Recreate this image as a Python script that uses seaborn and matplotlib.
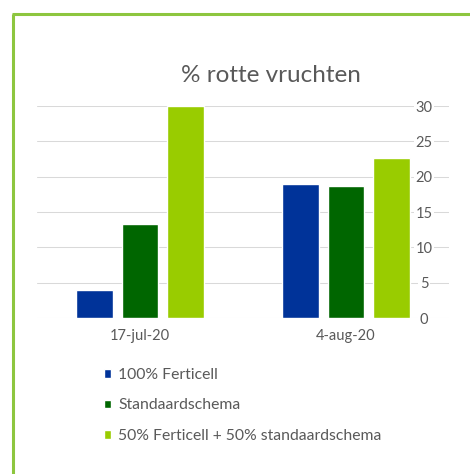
import matplotlib
matplotlib.use("Agg")
import matplotlib.pyplot as plt
from matplotlib.lines import Line2D
import seaborn as sns
import pandas as pd

dates = ["17-jul-20", "4-aug-20"]
series = ["100% Ferticell", "Standaardschema", "50% Ferticell + 50% standaardschema"]
ferticell100 = [4.0, 19.0]
standaard = [13.3, 18.7]
mix50 = [30.0, 22.7]
colors = ["#003399", "#006600", "#99CC00"]
yticks = [0, 5, 10, 15, 20, 25, 30]

rows = []
for s, vals in zip(series, [ferticell100, standaard, mix50]):
    for d, v in zip(dates, vals):
        rows.append({"datum": d, "serie": s, "waarde": v})
df = pd.DataFrame(rows)

sns.set_theme(style="white")
plt.rcParams["font.family"] = ["Lato", "DejaVu Sans"]
txt = "#595959"

W, H = 470, 474
fig = plt.figure(figsize=(W / 100, H / 100), dpi=100)
ax = fig.add_axes([37 / W, 1 - 318 / H, (449 - 37) / W, (318 - 106) / H])

sns.barplot(data=df, x="datum", y="waarde", hue="serie", hue_order=series,
            order=dates, palette=colors, width=0.663, gap=0.2,
            saturation=1, ax=ax, zorder=3)

ax.set_xlim(-0.5, 1.5)
ax.set_ylim(0, 30)
ax.set_yticks(yticks)
ax.set_xlabel("")
ax.set_ylabel("")
for sp in ax.spines.values():
    sp.set_visible(False)
ax.yaxis.grid(True, color="#d9d9d9", linewidth=0.75, zorder=0)
ax.set_axisbelow(True)
ax.yaxis.tick_right()
ax.tick_params(axis="y", length=0, pad=-18, labelsize=10.5, labelcolor=txt)
for lab in ax.get_yticklabels():
    lab.set_horizontalalignment("center")
    lab.set_bbox(dict(facecolor="white", edgecolor="none", pad=1))
ax.tick_params(axis="x", length=0, pad=8, labelsize=10.5, labelcolor=txt)

fig.text(271 / W, 1 - 76 / H, "% rotte vruchten", ha="center", va="center",
         fontsize=17.5, color=txt)

leg = ax.get_legend()
handles = leg.legend_handles
labels = [t.get_text() for t in leg.get_texts()]
leg.remove()
fig.legend(handles, labels, loc="upper left", bbox_to_anchor=(104 / W, 1 - 368 / H),
           frameon=False, fontsize=11.3, labelcolor=txt, handlelength=0.47,
           handleheight=0.47, handletextpad=0.45, labelspacing=1.05,
           borderaxespad=0, borderpad=0)

border = "#8DC63F"
fig.add_artist(Line2D([13 / W, 13 / W], [0, 1 - 14 / H], color=border, lw=2.2,
                      transform=fig.transFigure, solid_capstyle="butt"))
fig.add_artist(Line2D([12 / W, 1], [1 - 14 / H, 1 - 14 / H], color=border, lw=2.2,
                      transform=fig.transFigure, solid_capstyle="butt"))

fig.savefig("out.png", dpi=100)
